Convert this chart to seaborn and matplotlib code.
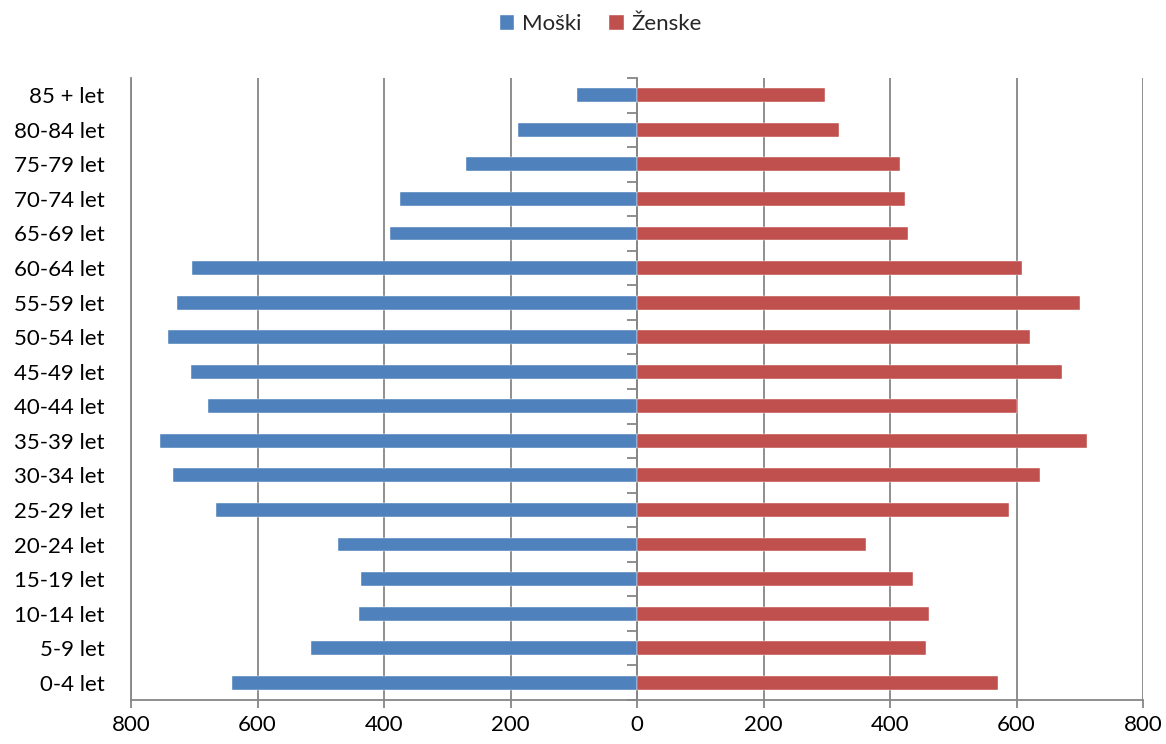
import numpy as np
import pandas as pd
import matplotlib
matplotlib.use("Agg")
import matplotlib.pyplot as plt
import seaborn as sns
from matplotlib.patches import Patch
from matplotlib.ticker import FixedLocator, FuncFormatter

# Starostne skupine (od najmlajše do najstarejše)
age_groups = ["0-4 let", "5-9 let", "10-14 let", "15-19 let", "20-24 let",
              "25-29 let", "30-34 let", "35-39 let", "40-44 let", "45-49 let",
              "50-54 let", "55-59 let", "60-64 let", "65-69 let", "70-74 let",
              "75-79 let", "80-84 let", "85 + let"]
men = [640, 515, 440, 437, 473, 666, 734, 755, 679, 705,
       742, 727, 703, 390, 374, 271, 188, 95]
women = [571, 457, 462, 436, 362, 588, 637, 712, 601, 672,
         621, 701, 608, 428, 423, 415, 320, 297]
series_names = ["Moški", "Ženske"]
x_ticks = [-800, -600, -400, -200, 0, 200, 400, 600, 800]

BLUE = "#4F81BD"
RED = "#C0504D"
GRID = "#868686"

df = pd.DataFrame({
    "age": age_groups * 2,
    "value": [-v for v in men] + list(women),
    "sex": [series_names[0]] * len(men) + [series_names[1]] * len(women),
})

sns.set_theme(style="white")
plt.rcParams["font.family"] = ["Lato", "DejaVu Sans"]

fig = plt.figure(figsize=(11.66, 7.44), dpi=100)
ax = fig.add_axes([0.1124, 0.0591, 0.8679, 0.8361])

order = age_groups[::-1]
sns.barplot(data=df, x="value", y="age", hue="sex", order=order,
            hue_order=series_names, palette=[BLUE, RED], dodge=False,
            width=0.4, orient="h", ax=ax, legend=False, saturation=1,
            edgecolor="#ffffff", linewidth=0.3)

ax.set_xlim(-800, 800)
ax.set_ylim(len(order) - 0.5, -0.5)
ax.set_xlabel("")
ax.set_ylabel("")

# Vertical grid lines
ax.xaxis.set_major_locator(FixedLocator(x_ticks))
ax.xaxis.set_major_formatter(FuncFormatter(lambda v, p: f"{abs(int(round(v)))}"))
ax.grid(axis="x", color=GRID, linewidth=1.3)
ax.set_axisbelow(True)

for side in ["top", "right"]:
    ax.spines[side].set_visible(False)
for side in ["left", "bottom"]:
    ax.spines[side].set_color(GRID)
    ax.spines[side].set_linewidth(1.3)

ax.tick_params(axis="x", which="major", bottom=True, length=6, width=1.3,
               color=GRID, labelsize=16, pad=5, labelcolor="black")
ax.tick_params(axis="y", which="major", left=False, length=0, labelsize=16,
               pad=19, labelcolor="black")

# Central axis with ticks between the age groups
center = ax.secondary_yaxis(0.5)
center.set_yticks(np.arange(-0.5, len(order), 1.0))
center.set_yticklabels([])
center.tick_params(axis="y", direction="in", length=7, width=1.3, color=GRID)
for sp in center.spines.values():
    sp.set_color(GRID)
    sp.set_linewidth(1.3)

handles = [Patch(facecolor=BLUE, label=series_names[0]),
           Patch(facecolor=RED, label=series_names[1])]
fig.legend(handles=handles, loc="center", bbox_to_anchor=(0.515, 0.968),
           ncol=2, frameon=False, fontsize=16, handlelength=0.7,
           handleheight=0.75, handletextpad=0.35, columnspacing=1.2)

fig.savefig("out.png", dpi=100, facecolor="white")
